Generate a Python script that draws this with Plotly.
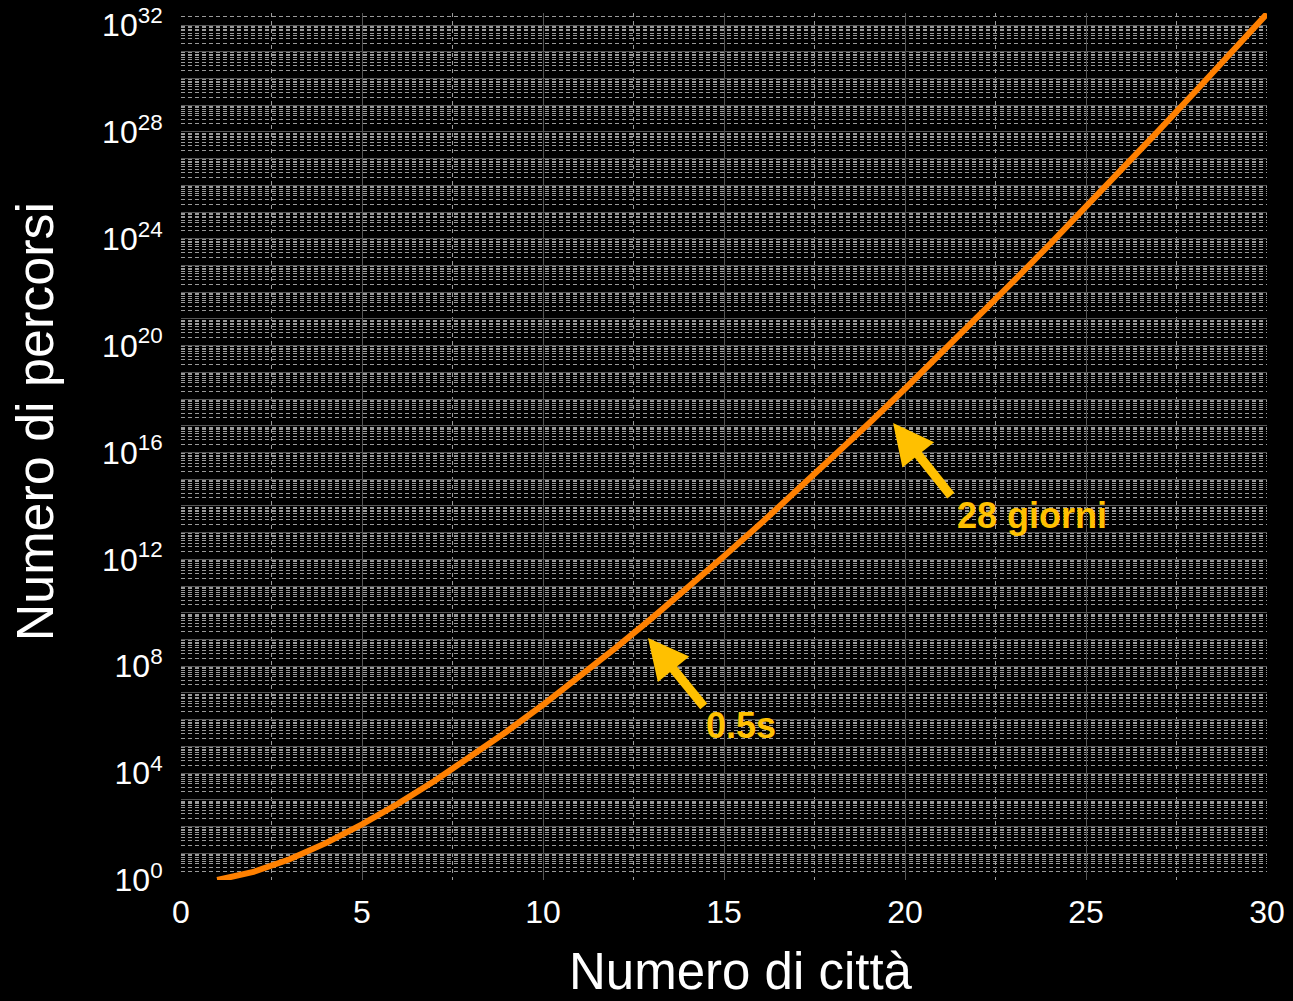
import plotly.graph_objects as go

# Data: number of cities vs number of routes (n!)
cities = list(range(1, 31))
routes = [1, 2, 6, 24, 120, 720, 5040, 40320, 362880, 3628800,
          39916800, 479001600, 6.227e9, 8.718e10, 1.3077e12, 2.0923e13,
          3.5569e14, 6.4024e15, 1.2165e17, 2.4329e18, 5.1091e19, 1.124e21,
          2.5852e22, 6.2045e23, 1.5511e25, 4.0329e26, 1.0889e28, 3.0489e29,
          8.8418e30, 2.6525e32]

y_tick_exponents = list(range(0, 33))
y_label_step = 4
x_tick_values = [0, 5, 10, 15, 20, 25, 30]

x_title = "Numero di città"
y_title = "Numero di percorsi"

ann_texts = ["0.5s", "28 giorni"]
ann_tip_x = [12.9, 19.67]
ann_tip_logy = [9.06, 17.1]
ann_tail_dx = [57, 59]
ann_tail_dy = [70, 74]
ann_text_x = [15.47, 23.51]
ann_text_logy = [5.80, 13.66]

FONT = "Arial, Liberation Sans, sans-serif"
GOLD = "#FFC000"

fig = go.Figure()
fig.add_trace(go.Scatter(x=cities, y=routes, mode="lines",
                         line=dict(color="#FF8000", width=6),
                         showlegend=False))

ticktext = [("10<sup>%d</sup>" % e) if e % y_label_step == 0 else "" for e in y_tick_exponents]
tickvals = [10.0 ** e for e in y_tick_exponents]

fig.update_layout(
    width=1293, height=1001,
    paper_bgcolor="black", plot_bgcolor="black",
    margin=dict(l=181, r=26, t=13, b=121),
    font=dict(family=FONT, color="white"),
    xaxis=dict(
        range=[0, 30], tickmode="array", tickvals=x_tick_values,
        automargin=False,
        showgrid=True, gridcolor="#555555", gridwidth=1,
        zeroline=False, showline=False,
        ticks="outside", ticklen=4, tickcolor="rgba(0,0,0,0)",
        tickfont=dict(size=32, color="white"),
        minor=dict(dtick=2.5, showgrid=True, gridcolor="#9a9a9a",
                   griddash="4px,4px", gridwidth=1),
    ),
    yaxis=dict(
        type="log", range=[0, 32.45], tickmode="array",
        tickvals=tickvals, ticktext=ticktext,
        automargin=False,
        showgrid=True, gridcolor="#555555", gridwidth=1,
        zeroline=False, showline=False,
        ticks="outside", ticklen=11, tickcolor="rgba(0,0,0,0)",
        tickfont=dict(size=32, color="white"),
        minor=dict(dtick="D1", showgrid=True, gridcolor="#9a9a9a",
                   griddash="4px,3px", gridwidth=1),
    ),
)

# axis titles
fig.add_annotation(text=x_title, xref="paper", yref="paper", x=0.5157, y=-0.106,
                   xanchor="center", yanchor="middle", showarrow=False,
                   font=dict(size=51, color="white", family=FONT))
fig.add_annotation(text=y_title, xref="paper", yref="paper", x=0, y=0.528,
                   xshift=-146, xanchor="center", yanchor="middle", showarrow=False,
                   textangle=-90, font=dict(size=52, color="white", family=FONT))

for i in range(len(ann_texts)):
    # arrow only
    fig.add_annotation(x=ann_tip_x[i], y=ann_tip_logy[i], xref="x", yref="y",
                       text="", showarrow=True,
                       ax=ann_tail_dx[i], ay=ann_tail_dy[i],
                       arrowhead=2, arrowsize=0.9, arrowwidth=9, arrowcolor=GOLD,
                       standoff=0, startstandoff=0)
    fig.add_annotation(x=ann_text_x[i], y=ann_text_logy[i], xref="x", yref="y",
                       text="<b>%s</b>" % ann_texts[i], showarrow=False,
                       font=dict(size=36, color=GOLD, family=FONT))

fig.write_html("out.html", config={"displayModeBar": False},
               post_script="document.body.style.margin='0';document.body.style.background='black';")
